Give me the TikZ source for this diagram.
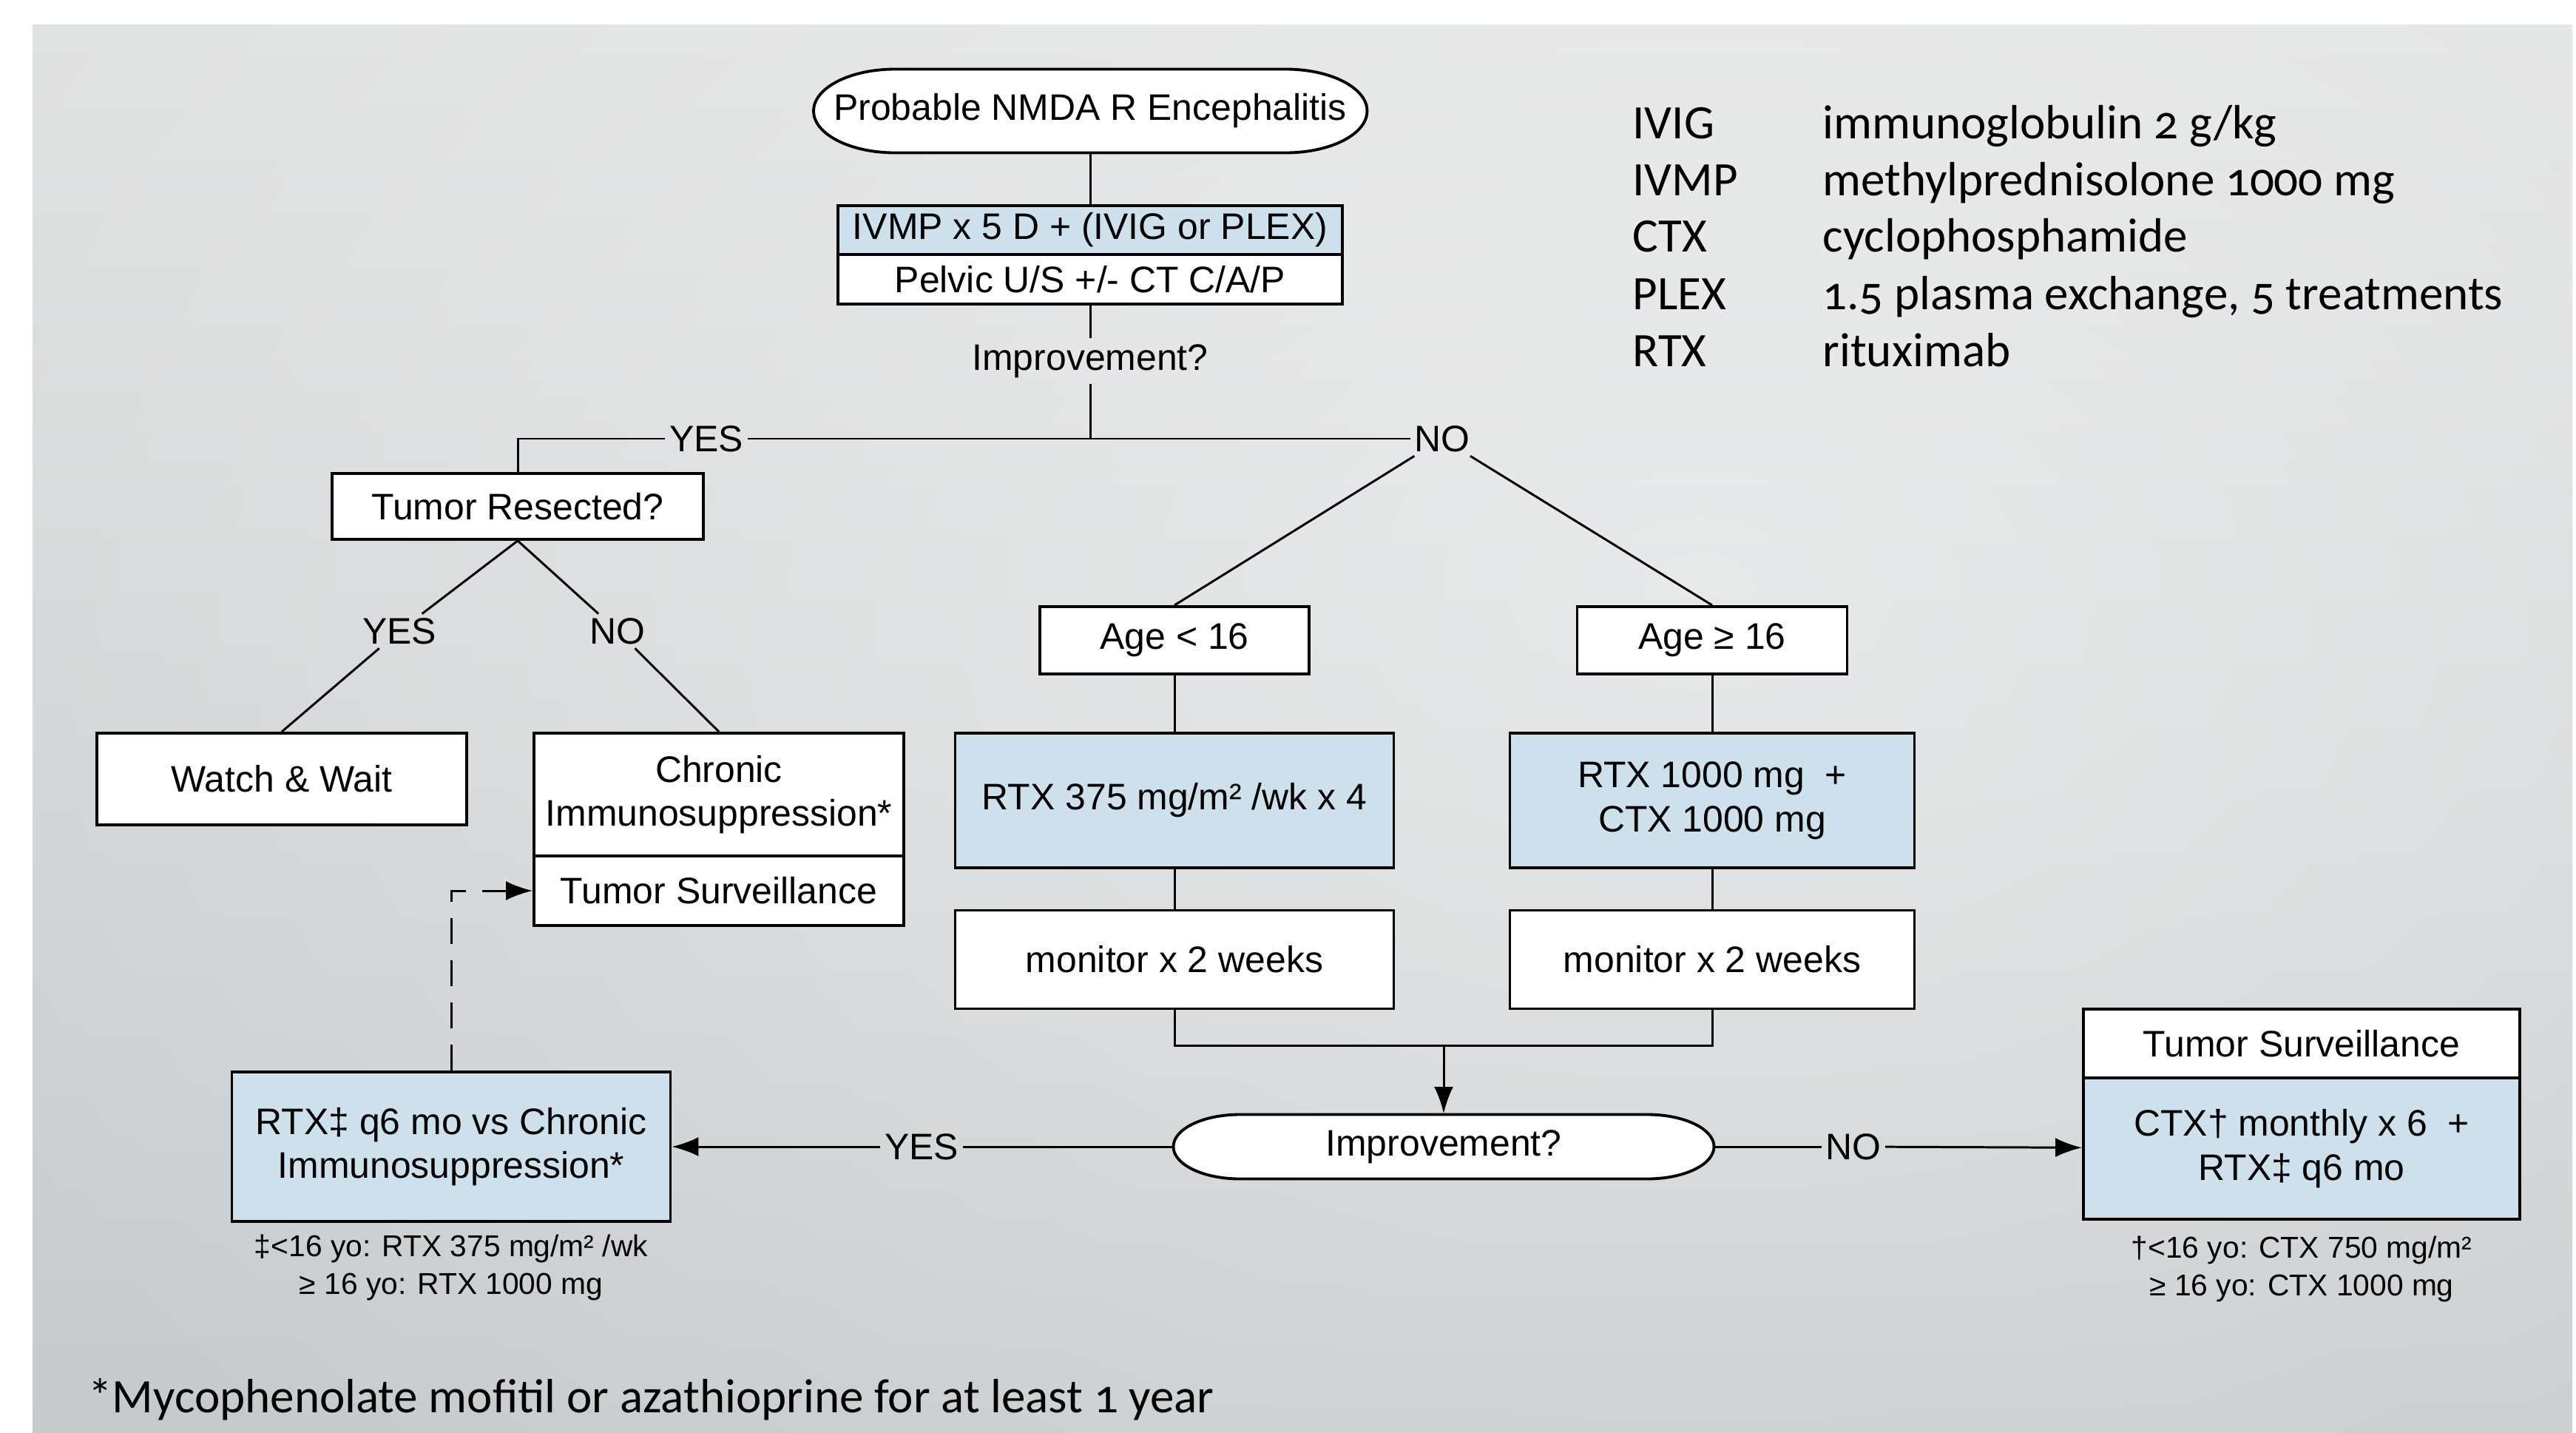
\documentclass[tikz,border=0pt]{standalone}
\usepackage{fontspec}
\setmainfont{Liberation Sans}
\newfontfamily\legendfont{Carlito}[Numbers=OldStyle]
\usepackage{tikz}
\usetikzlibrary{arrows.meta,fadings}

\definecolor{boxblue}{RGB}{206,224,236}
\definecolor{bgtop}{RGB}{224,225,225}
\definecolor{bgmid}{RGB}{230,231,231}
\definecolor{bgbot}{RGB}{198,202,204}
\tikzfading[name=glow, inner color=transparent!55, outer color=transparent!100]

\begin{document}
\begin{tikzpicture}[line width=0.85pt,
  every node/.style={font=\fontsize{14.2}{17}\selectfont, inner sep=0pt, align=center},
  box/.style={draw, line width=1.1pt, fill=white},
  bluebox/.style={box, fill=boxblue},
  lbl/.style={inner sep=1.2pt},
  note/.style={font=\fontsize{11.6}{14.5}\selectfont},
  legend/.style={font=\legendfont\fontsize{18.5}{22}\selectfont, anchor=mid west},
  arr/.style={-{Latex[length=3.6mm, width=2.6mm]}}
]
  \useasboundingbox (0,0) rectangle (34.83,-19.37);
  \shade[top color=bgtop, middle color=bgmid, bottom color=bgbot] (0.44,-0.34) rectangle (34.78,-19.37);
  \begin{scope}
    \clip (0.44,-0.34) rectangle (34.78,-19.37);
    \fill[white, path fading=glow] (23,-8) ellipse (26 and 18);
  \end{scope}

  % legend
  \node [legend] (ab1) at (22.06,-1.78) {IVIG};
  \node [legend] (ab2) at (22.06,-2.55) {IVMP};
  \node [legend] (ab3) at (22.06,-3.31) {CTX};
  \node [legend] (ab4) at (22.06,-4.09) {PLEX};
  \node [legend] (ab5) at (22.06,-4.86) {RTX};
  \node [legend] (de1) at (24.63,-1.78) {immunoglobulin 2 g/kg};
  \node [legend] (de2) at (24.63,-2.55) {methylprednisolone 1000 mg};
  \node [legend] (de3) at (24.63,-3.31) {cyclophosphamide};
  \node [legend] (de4) at (24.63,-4.09) {1.5 plasma exchange, 5 treatments};
  \node [legend] (de5) at (24.63,-4.86) {rituximab};
  \node [legend] (foot) at (1.18,-19.00) {*Mycophenolate mofitil or azathioprine for at least 1 year};

  % ovals
  \draw [box] (12.10,-0.935) -- (17.385,-0.935) arc[start angle=90, end angle=-90, x radius=1.1, y radius=0.565]
    -- (12.10,-2.065) arc[start angle=270, end angle=90, x radius=1.1, y radius=0.565] -- cycle;
  \draw [box] (16.765,-15.065) -- (22.275,-15.065) arc[start angle=90, end angle=-90, x radius=0.9, y radius=0.435]
    -- (16.765,-15.935) arc[start angle=270, end angle=90, x radius=0.9, y radius=0.435] -- cycle;

  \node [minimum width=7.49cm, minimum height=1.13cm] (start) at (14.74,-1.50) {Probable NMDA R Encephalitis};
  \node [bluebox, minimum width=6.82cm, minimum height=0.66cm] (treat) at (14.74,-3.11) {IVMP x 5 D + (IVIG or PLEX)};
  \node [box, minimum width=6.82cm, minimum height=0.67cm] (scan) at (14.74,-3.775) {Pelvic U/S +/- CT C/A/P};
  \node [inner sep=2pt] (imp1) at (14.74,-4.88) {Improvement?};
  \coordinate (split) at (14.74,-5.93);
  \node [lbl] (yes1) at (9.55,-5.93) {YES};
  \node [lbl] (no1) at (19.50,-5.93) {NO};
  \node [box, minimum width=5.02cm, minimum height=0.89cm] (tumres) at (7.00,-6.845) {Tumor Resected?};
  \node [lbl] (yes2) at (5.40,-8.53) {YES};
  \node [lbl] (no2) at (8.35,-8.53) {NO};
  \node [box, minimum width=5.00cm, minimum height=1.24cm] (watch) at (3.81,-10.53) {Watch \& Wait};
  \node [box, minimum width=5.00cm, minimum height=1.66cm] (chronic) at (9.72,-10.74) {Chronic\\Immunosuppression*};
  \node [box, minimum width=5.00cm, minimum height=0.94cm] (surv) at (9.72,-12.04) {Tumor Surveillance};
  \node [box, minimum width=3.64cm, minimum height=0.91cm] (age1) at (15.88,-8.655) {Age < 16};
  \node [box, minimum width=3.65cm, minimum height=0.91cm] (age2) at (23.15,-8.655) {Age ≥ 16};
  \node [bluebox, minimum width=5.93cm, minimum height=1.82cm] (rtx1) at (15.88,-10.82) {RTX 375 mg/m² /wk x 4};
  \node [bluebox, minimum width=5.47cm, minimum height=1.82cm] (rtx2) at (23.15,-10.82) {RTX 1000 mg\ \ +\\CTX 1000 mg};
  \node [box, minimum width=5.93cm, minimum height=1.33cm] (mon1) at (15.88,-12.97) {monitor x 2 weeks};
  \node [box, minimum width=5.47cm, minimum height=1.33cm] (mon2) at (23.15,-12.97) {monitor x 2 weeks};
  \coordinate (join) at (19.52,-14.13);
  \node [minimum width=7.31cm, minimum height=0.87cm] (imp2) at (19.52,-15.50) {Improvement?};
  \node [lbl] (yes3) at (12.46,-15.50) {YES};
  \node [lbl] (no3) at (25.06,-15.50) {NO};
  \node [bluebox, minimum width=5.93cm, minimum height=2.02cm] (rtxq) at (6.10,-15.50) {RTX‡ q6 mo vs Chronic\\Immunosuppression*};
  \node [box, minimum width=5.90cm, minimum height=0.93cm] (tsurv) at (31.12,-14.105) {Tumor Surveillance};
  \node [bluebox, minimum width=5.90cm, minimum height=1.91cm] (ctx) at (31.12,-15.525) {CTX† monthly x 6\ \ +\\RTX‡ q6 mo};
  \node [note] (rtxnote) at (6.10,-17.13) {‡<16 yo: RTX 375 mg/m² /wk\\≥ 16 yo: RTX 1000 mg};
  \node [note] (ctxnote) at (31.12,-17.155) {†<16 yo: CTX 750 mg/m²\\≥ 16 yo: CTX 1000 mg};

  \draw (start) -- (treat);
  \draw (scan) -- (imp1);
  \draw (imp1) -- (split);
  \draw (split) -- (yes1);
  \draw (yes1) -| (tumres);
  \draw (split) -- (no1);
  \draw (no1) -- (age1.north);
  \draw (no1) -- (age2.north);
  \draw (tumres.south) -- (yes2);
  \draw (yes2) -- (watch.north);
  \draw (tumres.south) -- (no2);
  \draw (no2) -- (chronic.north);
  \draw (age1) -- (rtx1);
  \draw (age2) -- (rtx2);
  \draw (rtx1) -- (mon1);
  \draw (rtx2) -- (mon2);
  \draw (mon1.south) |- (join) -| (mon2.south);
  \draw [arr] (join) -- (imp2);
  \draw (imp2) -- (yes3);
  \draw [arr] (yes3) -- (rtxq);
  \draw (imp2) -- (no3);
  \draw [arr] (no3) -- (ctx);
  \draw [arr, dash pattern=on 3.5mm off 2.2mm] (rtxq.north) |- (surv.west);
\end{tikzpicture}
\end{document}
